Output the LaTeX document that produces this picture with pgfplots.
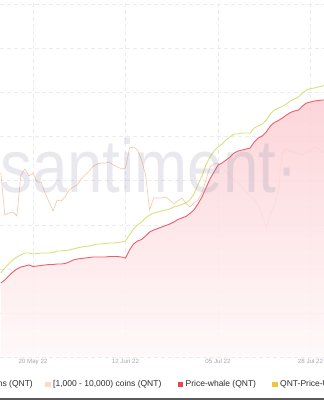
\documentclass[border=0pt]{standalone}
\usepackage{pgfplots}
\usepackage{pgfplotstable}
\usepackage{fontspec}
\setmainfont{Liberation Sans}
\pgfplotsset{compat=1.18}
\definecolor{gridc}{RGB}{236,236,240}
\definecolor{greenl}{RGB}{214,225,120}
\definecolor{redl}{RGB}{236,96,106}
\definecolor{peachl}{RGB}{248,196,166}
\definecolor{pinktop}{RGB}{252,206,211}
\definecolor{pinkbot}{RGB}{255,248,248}
\definecolor{sqpeach}{RGB}{246,220,202}
\definecolor{sqred}{RGB}{233,69,77}
\definecolor{sqyellow}{RGB}{243,195,60}
\definecolor{ticktext}{RGB}{165,165,173}
\definecolor{legtext}{RGB}{45,45,50}
\definecolor{wmark}{RGB}{138,142,172}
\definecolor{bottomband}{RGB}{90,90,92}

% day (0 = 20 May 22), QNT-Price line, Price-whale, [1,000 - 10,000) coins
\pgfplotstableread{
d green red peach
-8 84 74 185
-7 89 77 142
-6 93 81 144
-5 97 85 145
-4 100 88 141
-3 102 90 182
-2 104 91 188
-1 104 92 181
0 103 90.5 184
1 103.5 91 175
2 104 91.5 175
3 104 92 164
4 104 92.5 155
5 104.5 92.5 146
6 106 93 157
7 106 93 156
8 106.5 93.5 160
9 107 95 167
10 108 97 170
11 109 98 172
12 110 98.5 178
13 110.5 99 182
14 111 99.5 186
15 112 100 191
16 113 100 193
17 113 100 194
18 113.5 100 194
19 114 100.5 195
20 114 100.5 192
21 114.5 100.5 190
22 115 100 188
23 116 99 189
24 122 107 209
25 128 113 210
26 132 116 207
27 135 117.5 197
28 139 121 182
29 142 125 147
30 144 127 159
31 145 128.5 159
32 146 130 159
33 147 131.5 160
34 148 133 157
35 150 135 153
36 151 137.5 156
37 152.5 139 159
38 154 140.5 154
39 157 143.5 150
40 163 147 154
41 172 153 157
42 181 160 164
43 192 169 177
44 200 178 190
45 206 185 193
46 210 192 194
47 213 194 189
48 217 197 185
49 220 200 181
50 223 204 177
51 223 206 174
52 224 207 170
53 224 208 165
54 224 209 161
55 229 215 158
56 231 219 152
57 233 221 141
58 237 225 129
59 243 231 143
60 247 234.5 151
61 249 236.5 167
62 250.5 239 204
63 253 242 208
64 256 244.5 206
65 258 246 205
66 260 247 203
67 264 251 202
68 267 254 204
69 268.5 255 207
70 269 256 210
71 270 256.5 208
72 271 257 205
73 272 257 205
}\datatable

\begin{document}
\begin{tikzpicture}[x=1pt,y=1pt]
\path[use as bounding box] (0,0) rectangle (324,400);
\begin{axis}[
  at={(0,43)}, anchor=south west,
  scale only axis, width=324pt, height=357pt,
  xmin=-8.2, xmax=72.35, ymin=0, ymax=357,
  enlargelimits=false,
  axis line style={draw=none},
  major tick length=0pt,
  xtick={0,23,46,69},
  xticklabels={20 May 22, 12 Jun 22, 05 Jul 22, 28 Jul 22},
  xticklabel style={font=\fontsize{6.2}{7}\selectfont, text=ticktext, inner sep=0pt},
  xticklabel shift=2.2pt,
  ytick={0,44.06,88.12,132.19,176.25,220.31,264.38,308.44,352.5},
  yticklabels={},
  grid=major,
  grid style={gridc, line width=0.5pt, dash pattern=on 3.5pt off 3.5pt},
  clip=true,
]
\addplot[peachl, line width=0.6pt] table[x=d, y=peach] {\datatable};
\addplot[draw=none, top color=pinktop, bottom color=pinkbot, fill opacity=0.85] table[x=d, y=red] {\datatable} \closedcycle;
\addplot[redl, line width=0.9pt] table[x=d, y=red] {\datatable};
\addplot[greenl, line width=0.9pt] table[x=d, y=green] {\datatable};
\end{axis}
% watermark
\node[anchor=base west, inner sep=0pt, font=\fontsize{75}{75}\selectfont, text=wmark, text opacity=0.2, xscale=0.85] at (0,207) {santiment·};
% legend
\begin{scope}[every node/.style={anchor=base west, inner sep=0pt, font=\fontsize{8.5}{10}\selectfont, text=legtext}]
\node[anchor=base east] at (33,13.3) {[100 - 1,000) coins (QNT)};
\node at (45,13.3) {\textcolor{sqpeach}{\rule[-0.3pt]{5.3pt}{5.3pt}}\hspace{2.7pt}[1,000 - 10,000) coins (QNT)};
\node at (177.5,13.3) {\textcolor{sqred}{\rule[-0.3pt]{5.3pt}{5.3pt}}\hspace{2.7pt}Price-whale (QNT)};
\node at (272,13.3) {\textcolor{sqyellow}{\rule[-0.3pt]{5.3pt}{5.3pt}}\hspace{2.7pt}QNT-Price-USD (QNT)};
\end{scope}
\fill[bottomband] (0,0) rectangle (324,2.3);
\end{tikzpicture}
\end{document}
